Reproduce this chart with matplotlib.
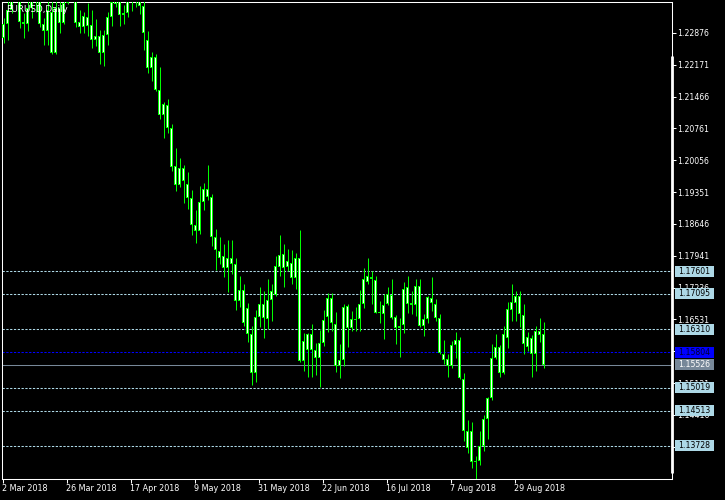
import numpy as np
import pandas as pd
import matplotlib
matplotlib.use("Agg")
import matplotlib.pyplot as plt
from matplotlib.patches import Rectangle
import matplotlib.transforms as mtrans

# ---------------- data (EURUSD daily) ----------------
dates = pd.bdate_range("2018-03-02", "2018-09-07")

opens = [1.2276, 1.2308, 1.2338, 1.2405, 1.2410, 1.2313, 1.2307, 1.2343, 1.2390, 1.2370,
         1.2307, 1.2291, 1.2335, 1.2244, 1.2343, 1.2309, 1.2355, 1.2445, 1.2400, 1.2313,
         1.2301, 1.2322, 1.2305, 1.2272, 1.2281, 1.2243, 1.2283, 1.2322, 1.2352, 1.2370,
         1.2328, 1.2333, 1.2380, 1.2373, 1.2374, 1.2348, 1.2272, 1.2209, 1.2234, 1.2162,
         1.2105, 1.2128, 1.2078, 1.1992, 1.1950, 1.1989, 1.1952, 1.1922, 1.1863, 1.1850,
         1.1913, 1.1942, 1.1925, 1.1836, 1.1805, 1.1794, 1.1768, 1.1790, 1.1776, 1.1693,
         1.1718, 1.1679, 1.1620, 1.1535, 1.1659, 1.1687, 1.1653, 1.1696, 1.1708, 1.1770,
         1.1798, 1.1770, 1.1779, 1.1745, 1.1789, 1.1561, 1.1585, 1.1620, 1.1585, 1.1567,
         1.1600, 1.1659, 1.1700, 1.1642, 1.1550, 1.1564, 1.1682, 1.1635, 1.1654, 1.1654,
         1.1687, 1.1735, 1.1748, 1.1740, 1.1668, 1.1666, 1.1687, 1.1707, 1.1659, 1.1635,
         1.1640, 1.1725, 1.1690, 1.1684, 1.1727, 1.1639, 1.1654, 1.1700, 1.1687, 1.1656,
         1.1577, 1.1565, 1.1550, 1.1596, 1.1608, 1.1522, 1.1368, 1.1405, 1.1337, 1.1340,
         1.1372, 1.1433, 1.1478, 1.1567, 1.1592, 1.1535, 1.1613, 1.1674, 1.1690, 1.1705,
         1.1662, 1.1591, 1.1613, 1.1576, 1.1627, 1.1621]
highs = [1.2321, 1.2365, 1.2420, 1.2446, 1.2447, 1.2331, 1.2360, 1.2410, 1.2413, 1.2380,
         1.2320, 1.2360, 1.2360, 1.2370, 1.2388, 1.2370, 1.2476, 1.2476, 1.2405, 1.2339,
         1.2335, 1.2355, 1.2339, 1.2318, 1.2294, 1.2294, 1.2334, 1.2370, 1.2414, 1.2380,
         1.2350, 1.2396, 1.2396, 1.2414, 1.2396, 1.2358, 1.2292, 1.2246, 1.2241, 1.2213,
         1.2135, 1.2141, 1.2085, 1.2033, 1.2010, 1.1996, 1.1979, 1.1939, 1.1896, 1.1948,
         1.1955, 1.1996, 1.1930, 1.1854, 1.1836, 1.1820, 1.1829, 1.1830, 1.1789, 1.1750,
         1.1731, 1.1690, 1.1639, 1.1674, 1.1724, 1.1716, 1.1742, 1.1731, 1.1794, 1.1839,
         1.1820, 1.1809, 1.1807, 1.1801, 1.1851, 1.1624, 1.1624, 1.1642, 1.1601, 1.1630,
         1.1674, 1.1711, 1.1711, 1.1670, 1.1598, 1.1688, 1.1688, 1.1672, 1.1681, 1.1719,
         1.1767, 1.1790, 1.1761, 1.1750, 1.1694, 1.1709, 1.1725, 1.1743, 1.1663, 1.1657,
         1.1737, 1.1750, 1.1716, 1.1742, 1.1742, 1.1665, 1.1705, 1.1746, 1.1699, 1.1666,
         1.1608, 1.1576, 1.1605, 1.1625, 1.1614, 1.1535, 1.1430, 1.1425, 1.1350, 1.1405,
         1.1441, 1.1481, 1.1598, 1.1621, 1.1596, 1.1639, 1.1692, 1.1732, 1.1716, 1.1716,
         1.1688, 1.1625, 1.1618, 1.1639, 1.1657, 1.1648]
lows = [1.2266, 1.2271, 1.2332, 1.2380, 1.2298, 1.2276, 1.2293, 1.2321, 1.2335, 1.2301,
        1.2261, 1.2261, 1.2241, 1.2241, 1.2287, 1.2307, 1.2352, 1.2390, 1.2301, 1.2287,
        1.2288, 1.2281, 1.2255, 1.2259, 1.2220, 1.2215, 1.2261, 1.2304, 1.2345, 1.2302,
        1.2308, 1.2324, 1.2337, 1.2345, 1.2330, 1.2251, 1.2199, 1.2182, 1.2160, 1.2098,
        1.2056, 1.2065, 1.1982, 1.1937, 1.1946, 1.1910, 1.1898, 1.1839, 1.1822, 1.1842,
        1.1895, 1.1917, 1.1816, 1.1763, 1.1776, 1.1748, 1.1714, 1.1754, 1.1675, 1.1680,
        1.1639, 1.1604, 1.1508, 1.1515, 1.1636, 1.1613, 1.1631, 1.1650, 1.1705, 1.1750,
        1.1724, 1.1761, 1.1731, 1.1720, 1.1559, 1.1539, 1.1525, 1.1525, 1.1531, 1.1503,
        1.1594, 1.1626, 1.1628, 1.1537, 1.1524, 1.1550, 1.1591, 1.1627, 1.1627, 1.1627,
        1.1678, 1.1731, 1.1688, 1.1667, 1.1646, 1.1610, 1.1685, 1.1654, 1.1599, 1.1570,
        1.1624, 1.1668, 1.1665, 1.1661, 1.1636, 1.1617, 1.1646, 1.1672, 1.1650, 1.1576,
        1.1554, 1.1525, 1.1545, 1.1568, 1.1521, 1.1383, 1.1357, 1.1324, 1.1299, 1.1330,
        1.1361, 1.1388, 1.1475, 1.1565, 1.1525, 1.1532, 1.1590, 1.1650, 1.1650, 1.1636,
        1.1577, 1.1583, 1.1525, 1.1539, 1.1602, 1.1546]
closes = [1.2308, 1.2338, 1.2405, 1.2410, 1.2313, 1.2307, 1.2343, 1.2390, 1.2370, 1.2307,
          1.2291, 1.2339, 1.2244, 1.2343, 1.2309, 1.2355, 1.2445, 1.2400, 1.2310, 1.2301,
          1.2325, 1.2303, 1.2272, 1.2281, 1.2243, 1.2283, 1.2322, 1.2356, 1.2370, 1.2328,
          1.2333, 1.2380, 1.2373, 1.2374, 1.2348, 1.2288, 1.2209, 1.2234, 1.2162, 1.2105,
          1.2131, 1.2078, 1.1990, 1.1951, 1.1989, 1.1959, 1.1922, 1.1862, 1.1848, 1.1913,
          1.1942, 1.1925, 1.1835, 1.1807, 1.1790, 1.1768, 1.1790, 1.1776, 1.1693, 1.1718,
          1.1646, 1.1621, 1.1535, 1.1659, 1.1688, 1.1657, 1.1696, 1.1715, 1.1771, 1.1796,
          1.1767, 1.1783, 1.1745, 1.1789, 1.1562, 1.1605, 1.1620, 1.1585, 1.1567, 1.1600,
          1.1651, 1.1700, 1.1645, 1.1550, 1.1564, 1.1681, 1.1635, 1.1654, 1.1652, 1.1687,
          1.1742, 1.1750, 1.1742, 1.1668, 1.1670, 1.1685, 1.1709, 1.1657, 1.1635, 1.1639,
          1.1720, 1.1688, 1.1684, 1.1727, 1.1639, 1.1654, 1.1703, 1.1689, 1.1657, 1.1579,
          1.1564, 1.1550, 1.1596, 1.1608, 1.1523, 1.1407, 1.1405, 1.1337, 1.1340, 1.1372,
          1.1433, 1.1478, 1.1567, 1.1593, 1.1535, 1.1621, 1.1676, 1.1692, 1.1705, 1.1666,
          1.1599, 1.1615, 1.1576, 1.1627, 1.1618, 1.1553]

x_tick_labels = ["2 Mar 2018", "26 Mar 2018", "17 Apr 2018", "9 May 2018", "31 May 2018",
                 "22 Jun 2018", "16 Jul 2018", "7 Aug 2018", "29 Aug 2018"]
y_tick_labels = ["1.22876", "1.22171", "1.21466", "1.20761", "1.20056", "1.19351", "1.18646",
                 "1.17941", "1.17236", "1.16531", "1.15826", "1.15121", "1.14416", "1.13711"]
level_prices = [1.17601, 1.17095, 1.16310, 1.15019, 1.14513, 1.13728]
level_labels = ["1.17601", "1.17095", "1.16310", "1.15019", "1.14513", "1.13728"]
ask_price, ask_label = 1.15804, "1.15804"
bid_price, bid_label = 1.15526, "1.15526"

# ---------------- figure ----------------
W, H = 725, 500
fig = plt.figure(figsize=(W / 100, H / 100), dpi=100, facecolor="black")
ax_l, ax_r, ax_t, ax_b = 2.0, 672.0, 2.0, 479.0   # pixel box of the plot
ax = fig.add_axes([ax_l / W, (H - ax_b) / H, (ax_r - ax_l) / W, (ax_b - ax_t) / H])
ax.set_facecolor("black")
YMIN, YMAX = 1.129956, 1.235627
ppu = (ax_b - ax_t) / (YMAX - YMIN)   # pixels per price unit
px = 1.0 / ppu                         # one pixel in price units
XMIN = -0.375                          # bar 0 centred on a pixel centre
XMAX = XMIN + (ax_r - ax_l) / 4.0      # 4 pixels per bar

n = len(opens)
xi = np.arange(n)
o = np.array(opens); c = np.array(closes); hi = np.array(highs); lo = np.array(lows)

GREEN = "#00ff00"
# wicks
ax.vlines(xi, lo, hi, color=GREEN, lw=0.72, zorder=3)
# bodies: green block (outline) with white core
bot = np.minimum(o, c)
top = np.maximum(o, c)
hgt = np.maximum(top - bot, px)
ax.bar(xi, hgt, bottom=bot, width=0.75, color=GREEN, linewidth=0, zorder=4)
inner_h = hgt - 2 * px
mask = inner_h > 0.5 * px
ax.bar(xi[mask], inner_h[mask], bottom=bot[mask] + px, width=0.25, color="white",
       linewidth=0, zorder=5)

# limits
ax.set_xlim(XMIN, XMAX)
ax.set_ylim(YMIN, YMAX)

# horizontal levels
for p in level_prices:
    ax.axhline(p, color="#add8e6", lw=0.75, dashes=(2.2, 1.45), zorder=2)
ax.axhline(ask_price, color="#0000ff", lw=0.75, dashes=(2.2, 1.45), zorder=2)
ax.axhline(bid_price, color="#778899", lw=0.75, zorder=2)

# spines
for s in ax.spines.values():
    s.set_color("white")
    s.set_linewidth(0.75)

# x ticks (MT4 puts the tick just left of the bar)
tick_idx = [dates.get_loc(pd.Timestamp(d)) for d in
            ["2018-03-02", "2018-03-26", "2018-04-17", "2018-05-09", "2018-05-31",
             "2018-06-22", "2018-07-16", "2018-08-07", "2018-08-29"]]
ax.set_xticks([t - 0.25 for t in tick_idx])
ax.set_xticklabels(x_tick_labels)
ax.tick_params(axis="x", colors="white", length=2.9, width=0.75, labelsize=5.8, pad=0.8)
for lbl in ax.get_xticklabels():
    lbl.set_horizontalalignment("left")

# y ticks on right
ax.yaxis.tick_right()
ax.set_yticks([float(v) for v in y_tick_labels])
ax.set_yticklabels(y_tick_labels)
ax.tick_params(axis="y", colors="white", length=3.0, width=0.75, labelsize=5.6, pad=0.6)

# price labels (boxes)
tr = mtrans.blended_transform_factory(ax.transAxes, ax.transData)
axw = ax_r - ax_l
box_x0 = (675.0 - ax_l) / axw
box_w = 39.0 / axw
box_h = 11.0 * px
txt_x = (677.8 - ax_l) / axw

def price_box(p, s, face, tcol):
    ax.add_patch(Rectangle((box_x0, p - box_h / 2), box_w, box_h, transform=tr,
                           facecolor=face, edgecolor="none", clip_on=False, zorder=6))
    ax.text(txt_x, p, s, transform=tr, ha="left", va="center", fontsize=5.6,
            color=tcol, clip_on=False, zorder=7)

for p, s in zip(level_prices, level_labels):
    price_box(p, s, "#add8e6", "black")
price_box(ask_price, ask_label, "#0000ff", "#000030")
price_box(bid_price, bid_label, "#778899", "white")

# thick white bar along the right price scale
y56 = (ax_b - 56.0) / (ax_b - ax_t)
y473 = (ax_b - 473.0) / (ax_b - ax_t)
ax.plot([1.0005, 1.0005], [y473, y56], transform=ax.transAxes, color="white",
        lw=2.0, solid_capstyle="butt", clip_on=False, zorder=5)

# title
fig.text(6 / W, 1 - 9.5 / H, "EURUSD,Daily", color="white", fontsize=6.3,
         ha="left", va="center")

fig.savefig("out.png", dpi=100, facecolor="black")
